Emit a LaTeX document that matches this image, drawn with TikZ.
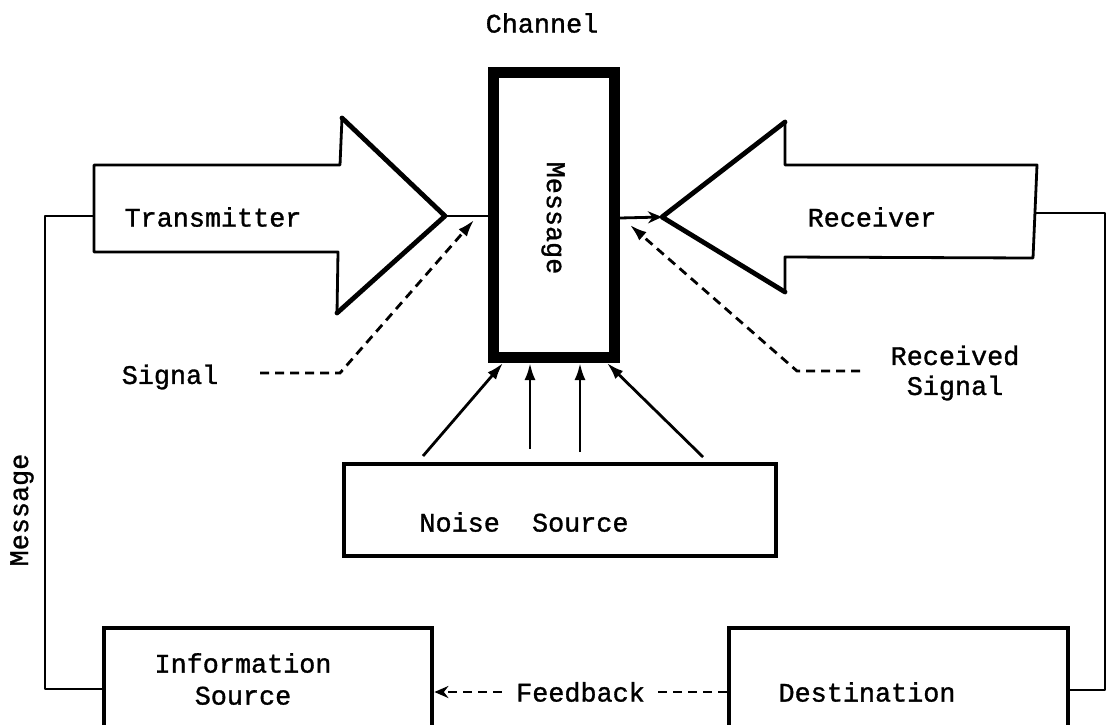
\documentclass[tikz,border=0pt]{standalone}
\usepackage{fontspec}
\setmainfont[FakeBold=1.2,AutoFakeBold=1.2]{Liberation Mono}
\usetikzlibrary{arrows.meta}
\begin{document}
\begin{tikzpicture}[x=1pt,y=-1pt,
  every node/.style={font=\fontsize{26.8}{31}\selectfont\bfseries, inner sep=0pt},
  thinline/.style={line width=2.8pt, line join=round},
  headline/.style={line width=4.8pt, line join=round, line cap=round},
  boxline/.style={draw, line width=4.8pt},
  dashline/.style={line width=2.8pt, dash pattern=on 9pt off 6pt},
  tipA/.style={-{Latex[length=17pt,width=11pt]}},
  tipB/.style={-{Stealth[length=14pt,width=12pt]}}
]
\useasboundingbox (0,0) rectangle (1107,724);
\clip (0,0) rectangle (1107,724);

% channel
\node[draw, line width=11pt, minimum width=121pt, minimum height=285pt] (chan) at (553.5,214.5) {};
\node[rotate=-90] (msg) at (553,218) {Message};
\node (chl) at (542,23) {Channel};

% transmitter arrow
\coordinate (ttip) at (445,216);
\coordinate (tback) at (94,216);
\draw[thinline] (342,118) -- (340,165) -- (94,165) -- (94,252) -- (338,252) -- (337,313);
\draw[headline] (342,118) -- (ttip) -- (337,313);
\node (tx) at (213,217) {Transmitter};

% receiver arrow
\coordinate (rtip) at (662,217);
\coordinate (rback) at (1035,213);
\draw[thinline] (785,122) -- (785,165) -- (1037,165) -- (1033,258) -- (785,257) -- (785,292);
\draw[headline] (785,122) -- (rtip) -- (785,292);
\node (rx) at (872,217) {Receiver};

% noise source
\node[boxline, minimum width=432pt, minimum height=92pt] (noise) at (560,510) {};
\node (nl) at (524,522) {Noise\ \ Source};

% information source and destination (running off the lower edge)
\node[boxline, minimum width=328pt, minimum height=142pt] (info) at (268,699) {};
\node[align=center, font=\fontsize{26.8}{32}\selectfont\bfseries] (il) at (243,679) {Information\\Source};
\node[boxline, minimum width=339pt, minimum height=142pt] (dest) at (898.5,699) {};
\node (dl) at (867,692) {Destination};

% signal labels
\node (sig) at (170,377) {Signal};
\node[align=center, font=\fontsize{26.8}{30}\selectfont\bfseries] (rsig) at (955,373) {Received\\Signal};
\node[rotate=90] (ml) at (22,510) {Message};

% transmitter -> channel -> receiver
\draw[thinline] (ttip) -- (chan.west |- ttip);
\draw[thinline, tipB] (chan.east |- 0,218) -- (rtip);

% message loop to the sources
\draw[thinline] (tback) -- (45,216) |- (info.west |- 0,689);
\draw[thinline] (rback) -- (1105,213) |- (dest.east |- 0,690);

% noise arrows into the channel
\coordinate (n1) at (423,456);
\coordinate (n2) at (530,449);
\coordinate (n3) at (580,452);
\coordinate (n4) at (703,457);
\draw[thinline, tipA] (n1) -- (503,363);
\draw[thinline, tipA] (n2) -- (530,363);
\draw[thinline, tipA] (n3) -- (580,363);
\draw[thinline, tipA] (n4) -- (607,363);

% signal and received signal
\coordinate (sa) at (260,373);
\coordinate (sb) at (340,373);
\coordinate (st) at (474,220);
\draw[dashline, tipA] (sa) -- (sb) -- (st);
\coordinate (ra) at (860,371);
\coordinate (rb) at (797,371);
\coordinate (rt) at (630,225);
\draw[dashline, tipA] (ra) -- (rb) -- (rt);

% feedback
\draw[dashline, tipB] (dest.west |- 0,692) -- node[fill=white, inner xsep=12pt, inner ysep=4pt] (fb) {Feedback} (info.east |- 0,692);
\end{tikzpicture}
\end{document}
